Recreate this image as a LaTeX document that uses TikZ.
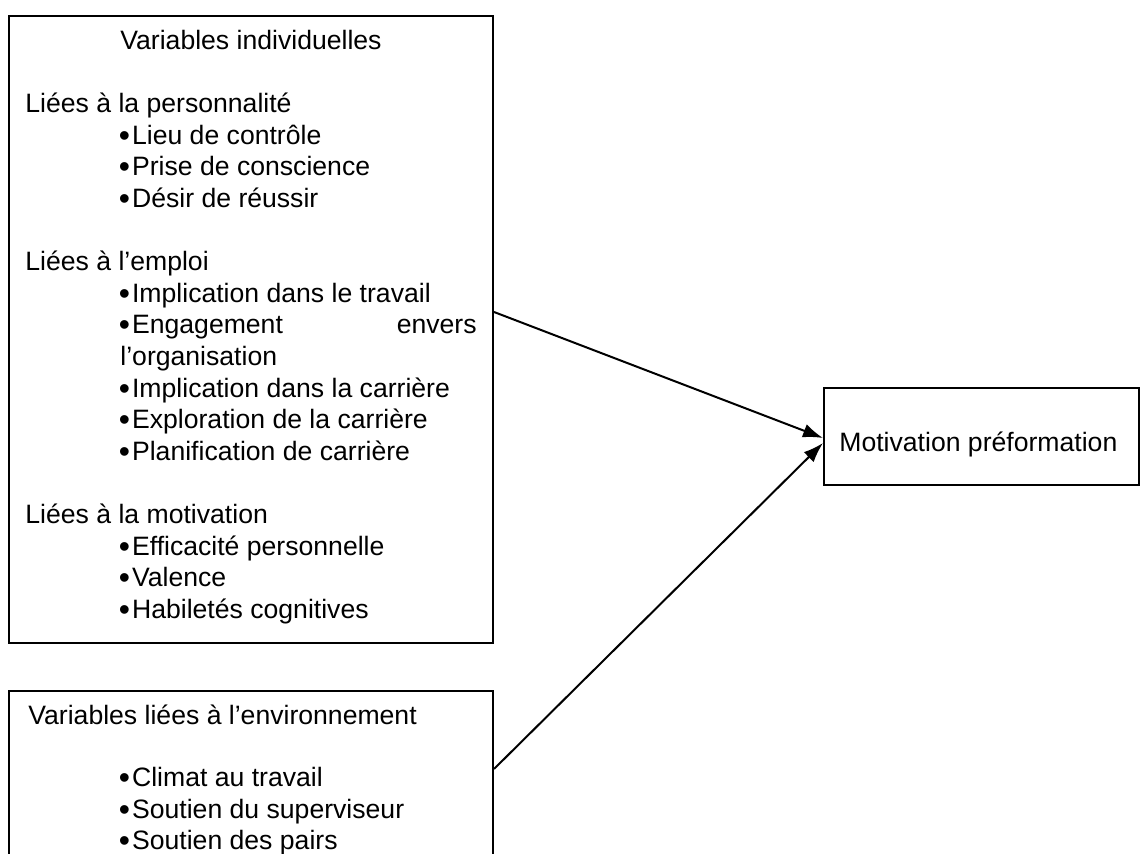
\documentclass[tikz,border=0pt]{standalone}
\usepackage{fontspec}
\setmainfont{Liberation Sans}
\usetikzlibrary{arrows.meta}
% bullet set tight against its item text
\newcommand{\itm}[1]{\makebox[6.6pt][l]{\raisebox{-0.6pt}{\scalebox{1.2}{•}}}#1}
\begin{document}
\begin{tikzpicture}[x=0.5pt,y=-0.5pt,
  box/.style={draw, line width=1pt, rectangle, inner sep=0pt, anchor=north west},
  txt/.style={anchor=base west, inner sep=0pt, font=\fontsize{13.3pt}{15.8pt}\selectfont},
  link/.style={line width=1pt, -{Latex[length=10pt,width=7pt]}}]
\clip (0,0) rectangle (1147,854);

% boxes
\node[box, minimum width=242pt, minimum height=313.5pt] (indiv) at (8,15) {};
\node[box, minimum width=242pt, minimum height=105pt] (envir) at (8,690) {};
\node[box, minimum width=157.5pt, minimum height=48.5pt] (motiv) at (823,387) {};

% individual variables
\node[txt, anchor=base] (h1) at (251,50) {Variables individuelles};
\node[txt] (p0) at (25,113) {Liées à la personnalité};
\node[txt] (p1) at (118.5,145) {\itm{Lieu de contrôle}};
\node[txt] (p2) at (118.5,176) {\itm{Prise de conscience}};
\node[txt] (p3) at (118.5,208) {\itm{Désir de réussir}};
\node[txt] (e0) at (25,271) {Liées à l’emploi};
\node[txt] (e1) at (118.5,303) {\itm{Implication dans le travail}};
\node[txt] (e2) at (118.5,334) {\itm{Engagement}};
\node[txt, anchor=base east] (e2b) at (477,334) {envers};
\node[txt] (e2c) at (120,366) {l’organisation};
\node[txt] (e3) at (118.5,398) {\itm{Implication dans la carrière}};
\node[txt] (e4) at (118.5,429) {\itm{Exploration de la carrière}};
\node[txt] (e5) at (118.5,461) {\itm{Planification de carrière}};
\node[txt] (m0) at (25,524) {Liées à la motivation};
\node[txt] (m1) at (118.5,556) {\itm{Efficacité personnelle}};
\node[txt] (m2) at (118.5,587) {\itm{Valence}};
\node[txt] (m3) at (118.5,619) {\itm{Habiletés cognitives}};

% environment variables
\node[txt] (h2) at (28,725) {Variables liées à l’environnement};
\node[txt] (v1) at (118.5,787) {\itm{Climat au travail}};
\node[txt] (v2) at (118.5,819) {\itm{Soutien du superviseur}};
\node[txt] (v3) at (118.5,850) {\itm{Soutien des pairs}};

% outcome
\node[txt] (mt) at (839,452) {Motivation préformation};

% links
\draw[link] ([yshift=8.75pt]indiv.east) -- ([yshift=-0.75pt]motiv.west);
\draw[link] ([yshift=13.5pt]envir.east) -- ([yshift=-3.25pt]motiv.west);
\end{tikzpicture}
\end{document}
